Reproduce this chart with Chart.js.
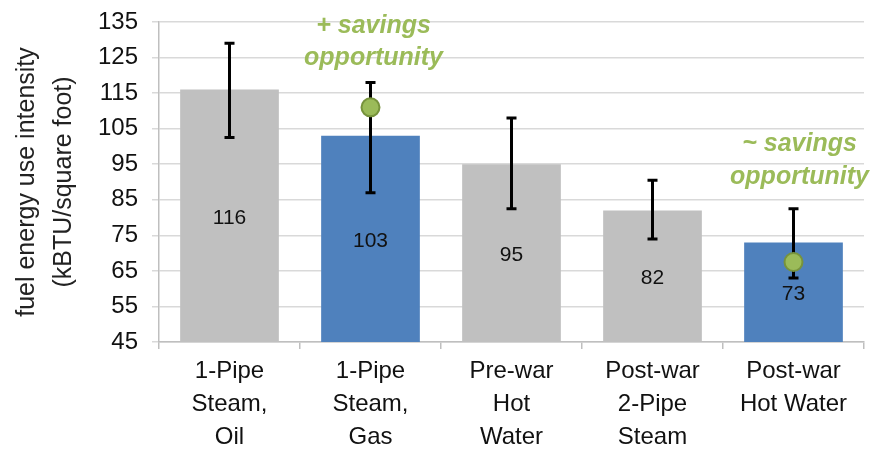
<!DOCTYPE html>
<html>
<head>
<meta charset="utf-8">
<script src="https://cdn.jsdelivr.net/npm/chart.js@4.4.1/dist/chart.umd.min.js"></script>
<style>
  html, body { margin: 0; padding: 0; background: #fff; }
  #wrap { width: 875px; height: 449px; }
</style>
</head>
<body>
<div id="wrap"><canvas id="euiChart"></canvas></div>
<script>
// heating system types (multi-line labels)
const systemTypes = [
  ["1-Pipe", "Steam,", "Oil"],
  ["1-Pipe", "Steam,", "Gas"],
  ["Pre-war", "Hot", "Water"],
  ["Post-war", "2-Pipe", "Steam"],
  ["Post-war", "Hot Water"],
];
// mean fuel EUI, kBTU/sq ft
const meanEui = [116, 103, 95, 82, 73];
// error bar range
const euiLow = [102.5, 87, 82.5, 74, 63];
const euiHigh = [129, 118, 108, 90.5, 82.5];
// highlighted comparison points
const targetEui = [null, 111, null, null, 67.5];
const highlighted = [false, true, false, false, true];
const yTicks = { min: 45, max: 135, step: 10 };
const notePlus = ["+ savings", "opportunity"];
const noteTilde = ["~ savings", "opportunity"];

const FONT = "'Liberation Sans', Arial, sans-serif";
const GREEN = "#9bbb59";

// draws error bars and the value labels inside the bars
const barExtras = {
  id: "barExtras",
  afterDatasetDraw(chart, args) {
    if (args.index !== 0) return;
    const { ctx, scales: { x, y } } = chart;
    ctx.save();
    meanEui.forEach((v, i) => {
      const px = x.getPixelForValue(i);
      const top = y.getPixelForValue(v);
      const base = y.getPixelForValue(yTicks.min);
      ctx.fillStyle = "#111";
      ctx.font = "21px " + FONT;
      ctx.textAlign = "center";
      ctx.textBaseline = "middle";
      ctx.fillText(String(v), px, (top + base) / 2 + 2);
    });
    ctx.strokeStyle = "#000";
    ctx.lineWidth = 3;
    euiLow.forEach((lo, i) => {
      const px = x.getPixelForValue(i);
      const y1 = y.getPixelForValue(euiHigh[i]);
      const y2 = y.getPixelForValue(lo);
      ctx.beginPath();
      ctx.moveTo(px, y1); ctx.lineTo(px, y2);
      ctx.moveTo(px - 5, y1); ctx.lineTo(px + 5, y1);
      ctx.moveTo(px - 5, y2); ctx.lineTo(px + 5, y2);
      ctx.stroke();
    });
    ctx.restore();
  },
  afterDraw(chart) {
    const { ctx, scales: { x, y } } = chart;
    ctx.save();
    ctx.fillStyle = GREEN;
    ctx.font = "italic bold 25px " + FONT;
    ctx.textAlign = "center";
    ctx.textBaseline = "middle";
    const x1 = x.getPixelForValue(1) + 3;
    ctx.fillText(notePlus[0], x1, y.getPixelForValue(133.9));
    ctx.fillText(notePlus[1], x1, y.getPixelForValue(124.9));
    const x4 = x.getPixelForValue(4) + 6;
    ctx.fillText(noteTilde[0], x4, y.getPixelForValue(100.7));
    ctx.fillText(noteTilde[1], x4, y.getPixelForValue(91.5));
    ctx.restore();
  },
};

new Chart(document.getElementById("euiChart"), {
  data: {
    labels: systemTypes,
    datasets: [
      {
        type: "bar",
        data: meanEui,
        backgroundColor: highlighted.map((h) => (h ? "#4f81bd" : "#c0c0c0")),
        categoryPercentage: 1,
        barPercentage: 0.7,
        order: 2,
      },
      {
        type: "line",
        data: targetEui,
        showLine: false,
        pointRadius: 9,
        pointBackgroundColor: GREEN,
        pointBorderColor: "#77933c",
        pointBorderWidth: 2,
        order: 1,
      },
    ],
  },
  options: {
    responsive: true,
    maintainAspectRatio: false,
    animation: false,
    layout: { padding: { top: 22, right: 10, left: 0, bottom: 0 } },
    plugins: { legend: { display: false }, tooltip: { enabled: false } },
    scales: {
      x: {
        offset: true,
        grid: { display: true, drawOnChartArea: false, offset: true, color: "#bfbfbf", tickLength: 7, lineWidth: 1.5 },
        border: { color: "#bfbfbf", width: 1.5 },
        ticks: { color: "#111", font: { family: FONT, size: 24, lineHeight: 1.38 }, padding: 6, maxRotation: 0, autoSkip: false },
        afterFit(scale) { scale.height = 107; },
      },
      y: {
        min: yTicks.min,
        max: yTicks.max,
        grid: { color: "#d9d9d9", lineWidth: 1.5, tickLength: 7 },
        border: { color: "#bfbfbf", width: 1.5 },
        ticks: { stepSize: yTicks.step, color: "#111", font: { family: FONT, size: 24 }, padding: 14 },
        title: {
          display: true,
          text: ["fuel energy use intensity", "(kBTU/square foot)"],
          color: "#222",
          font: { family: FONT, size: 25, lineHeight: 1.5 },
          padding: { top: 8, bottom: 0 },
        },
        afterFit(scale) {
          scale.width = 159;
          // keep the plot top tied to the layout padding only
          scale.paddingTop = 4;
          scale.paddingBottom = 4;
        },
      },
    },
  },
  plugins: [barExtras],
});
</script>
</body>
</html>
